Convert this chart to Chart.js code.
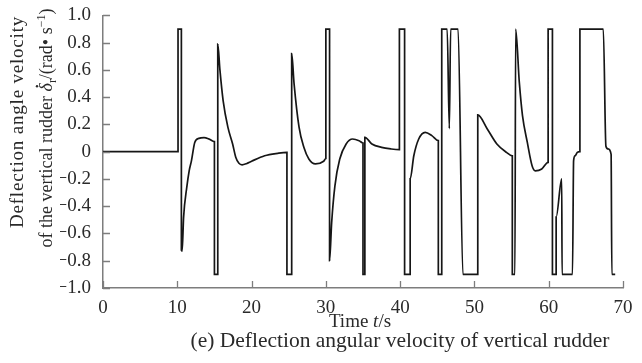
<!DOCTYPE html>
<html>
<head>
<meta charset="utf-8">
<script src="https://cdn.jsdelivr.net/npm/chart.js@4.4.1/dist/chart.umd.min.js"></script>
<style>
  html, body { margin: 0; padding: 0; background: #fff; }
</style>
</head>
<body>
<canvas id="rudderChart" width="642" height="363"></canvas>
<script>
// rudder rate response, time in seconds and rate in rad/s
const timeS = [
  0, 10.1, 10.1, 10.55, 10.55, 10.65, 10.85, 11.28, 11.6, 11.91, 12.35, 12.9, 13.6, 14.3, 15.0,
  15.0, 15.45, 15.45, 15.74, 16.17, 16.81, 17.45, 17.87, 18.3, 18.72, 19.3, 20.0, 21.76, 23.52, 24.76,
  24.76, 25.4, 25.4, 25.72, 26.39, 27.05, 27.71, 28.6, 29.7, 30.0,
  30.0, 30.5, 30.5, 30.78, 31.22, 31.87, 32.73, 33.6, 34.47, 35.0,
  35.0, 35.25, 35.25, 36.2, 37.5, 38.8, 39.9,
  39.9, 40.6, 40.6, 41.35, 41.35, 41.84, 42.5, 43.38, 44.27, 45.14,
  45.14, 45.6, 45.6, 46.33, 46.62, 46.8, 47.8, 48.45,
  50.45, 50.45, 51.73, 53.02, 54.32, 55.1,
  55.1, 55.45, 55.55, 56.04, 56.47, 57.12, 57.76, 58.19, 59.06, 59.92,
  59.92, 60.5, 60.5, 61.0, 61.0, 61.75, 61.8, 63.2, 63.35, 63.55, 63.85, 64.2,
  64.2, 67.35, 67.7, 68.0, 68.4, 68.5, 68.95
];
const rateRad = [
  0, 0, 0.9, 0.9, -0.72, -0.73, -0.48, -0.26, -0.14, -0.066, 0.068, 0.098, 0.103, 0.092, 0.074,
  -0.9, -0.9, 0.79, 0.60, 0.375, 0.18, 0.057, -0.04, -0.085, -0.096, -0.088, -0.07, -0.03, -0.012, -0.005,
  -0.9, -0.9, 0.72, 0.50, 0.18, 0.03, -0.054, -0.09, -0.07, -0.05,
  0.9, 0.9, -0.80, -0.52, -0.25, -0.054, 0.057, 0.093, 0.081, 0.064,
  -0.9, -0.9, 0.105, 0.057, 0.032, 0.02, 0.015,
  0.9, 0.9, -0.9, -0.9, -0.2, -0.03, 0.093, 0.142, 0.118, 0.081,
  -0.9, -0.9, 0.9, 0.9, 0.17, 0.9, 0.9, -0.9,
  -0.9, 0.27, 0.167, 0.057, -0.005, -0.03,
  -0.9, -0.9, 0.9, 0.51, 0.265, 0.068, -0.103, -0.14, -0.127, -0.078,
  0.9, 0.9, -0.9, -0.9, -0.48, -0.2, -0.9, -0.9, -0.066, -0.03, -0.005, 0.0,
  0.9, 0.9, 0.04, 0.02, -0.02, -0.9, -0.9
];
const timeTicks = [0, 10, 20, 30, 40, 50, 60, 70];
const rateTicks = [-1.0, -0.8, -0.6, -0.4, -0.2, 0, 0.2, 0.4, 0.6, 0.8, 1.0];

const INK = '#161616';
const TEXT = '#2a2a2a';
const AXIS = '#7d7d7d';
const SERIF = '"Liberation Serif", "Times New Roman", serif';

function rateLabel(v) {
  if (Math.abs(v) < 1e-9) return '0';
  return (v < 0 ? '\u2212' : '') + Math.abs(v).toFixed(1);
}

// lays out a row of differently styled text pieces centred on cx
function drawRuns(ctx, runs, cx, baseY) {
  let total = 0;
  runs.forEach(r => { ctx.font = r.font; r.w = ctx.measureText(r.text).width; total += r.w; });
  let x = cx - total / 2;
  runs.forEach(r => {
    ctx.font = r.font;
    ctx.fillText(r.text, x, baseY + (r.dy || 0));
    r.x = x;
    x += r.w;
  });
  return runs;
}

// inward tick marks plus axis titles and caption
const axisDecor = {
  id: 'axisDecor',
  afterDraw(chart) {
    const { ctx, chartArea: a, scales: { x, y } } = chart;
    ctx.save();
    ctx.strokeStyle = AXIS;
    ctx.lineWidth = 1.3;
    ctx.beginPath();
    x.ticks.forEach(t => {
      const px = Math.round(x.getPixelForValue(t.value)) + 0.5;
      ctx.moveTo(px, a.bottom);
      ctx.lineTo(px, a.bottom - 7);
    });
    y.ticks.forEach(t => {
      const py = Math.round(y.getPixelForValue(t.value)) + 0.5;
      ctx.moveTo(a.left, py);
      ctx.lineTo(a.left + 7, py);
    });
    ctx.stroke();

    ctx.fillStyle = TEXT;
    ctx.textAlign = 'left';
    ctx.textBaseline = 'alphabetic';
    const f = sz => sz + 'px ' + SERIF;
    const fi = sz => 'italic ' + sz + 'px ' + SERIF;

    // x title
    drawRuns(ctx, [
      { text: 'Time ', font: f(19) },
      { text: 't', font: fi(19) },
      { text: '/s', font: f(19) }
    ], 360, 327);

    // caption
    drawRuns(ctx, [
      { text: '(e) Deflection angular velocity of vertical rudder', font: f(21.5) }
    ], 400, 347);

    // y title, two rotated lines
    ctx.save();
    ctx.translate(23, 122);
    ctx.rotate(-Math.PI / 2);
    ctx.letterSpacing = '0.8px';
    drawRuns(ctx, [{ text: 'Deflection angle velocity', font: f(19) }], 0, 0);
    ctx.letterSpacing = '0px';
    ctx.restore();

    ctx.save();
    ctx.translate(52, 128);
    ctx.rotate(-Math.PI / 2);
    const runs = drawRuns(ctx, [
      { text: 'of the vertical rudder ', font: f(18) },
      { text: '\u03b4', font: fi(18) },
      { text: 'r', font: f(12), dy: 4 },
      { text: '/(rad\u2022 s', font: f(18) },
      { text: '\u22121', font: f(12), dy: -7 },
      { text: ')', font: f(18) }
    ], 0, 0);
    const d = runs[1];
    ctx.beginPath();
    ctx.arc(d.x + d.w * 0.62, -15, 1.2, 0, Math.PI * 2);
    ctx.fill();
    ctx.restore();

    ctx.restore();
  }
};

new Chart(document.getElementById('rudderChart'), {
  type: 'line',
  data: {
    datasets: [{
      data: timeS.map((t, i) => ({ x: t, y: rateRad[i] })),
      borderColor: INK,
      borderWidth: 1.7,
      pointRadius: 0,
      cubicInterpolationMode: 'monotone',
      fill: false
    }]
  },
  options: {
    responsive: false,
    animation: false,
    events: [],
    layout: { padding: { left: 60, right: 19, top: 15, bottom: 45 } },
    plugins: { legend: { display: false }, tooltip: { enabled: false } },
    scales: {
      x: {
        type: 'linear',
        min: 0,
        max: 70,
        afterBuildTicks: s => { s.ticks = timeTicks.map(v => ({ value: v })); },
        afterFit: s => { s.height = 30; },
        grid: { display: false },
        border: { color: AXIS, width: 1.5 },
        ticks: { color: TEXT, font: { family: SERIF, size: 19 }, padding: 1, maxRotation: 0, autoSkip: false }
      },
      y: {
        min: -1,
        max: 1,
        afterBuildTicks: s => { s.ticks = rateTicks.map(v => ({ value: v })); },
        afterFit: s => { s.width = 43; },
        grid: { display: false },
        border: { color: AXIS, width: 1.5 },
        ticks: { color: TEXT, font: { family: SERIF, size: 19 }, padding: 4, autoSkip: false, callback: v => rateLabel(v) }
      }
    }
  },
  plugins: [axisDecor]
});
</script>
</body>
</html>
